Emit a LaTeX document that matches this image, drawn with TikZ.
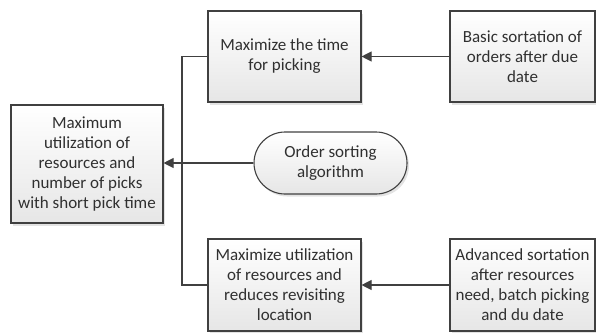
\documentclass[tikz,border=0pt]{standalone}
\usepackage{fontspec}
\setmainfont{Carlito}
\usetikzlibrary{arrows.meta,shadows}

\definecolor{boxline}{HTML}{404040}
\definecolor{boxfill}{HTML}{E6E6E6}
\definecolor{textcol}{HTML}{303030}

\begin{document}
\begin{tikzpicture}[x=1pt,y=-1pt,
  base/.style={draw=boxline, line width=1.1pt, top color=white, bottom color=boxfill,
    drop shadow={opacity=0.22, shadow xshift=2pt, shadow yshift=-2.5pt},
    align=center, text=textcol, inner sep=0pt,
    font=\fontsize{17}{20}\selectfont},
  box/.style={base, rectangle},
  pill/.style={base, rectangle, rounded corners=31pt},
  link/.style={draw=boxline, line width=1.1pt},
  arr/.style={link, -{Triangle[length=10pt,width=10pt]}}]

  % canvas
  \useasboundingbox (0,0) rectangle (596,332);

  % goal
  \node[box, minimum width=152pt, minimum height=118pt] (goal) at (87,164)
    {Maximum\\utilization of\\resources and\\number of picks\\with short pick time};

  % intermediate objectives
  \node[box, minimum width=153pt, minimum height=91pt] (time) at (284.5,56.5)
    {Maximize the time\\for picking};
  \node[box, minimum width=153pt, minimum height=92pt] (util) at (284.5,285)
    {Maximize utilization\\of resources and\\reduces revisiting\\location};

  % sorting algorithm
  \node[pill, minimum width=153pt, minimum height=62pt] (algo) at (330.5,163)
    {Order sorting\\algorithm};

  % sortation strategies
  \node[box, minimum width=145pt, minimum height=91pt] (basic) at (522.5,56.5)
    {Basic sortation of\\orders after due\\date};
  \node[box, minimum width=145pt, minimum height=92pt] (adv) at (522.5,285)
    {Advanced sortation\\after resources\\need, batch picking\\and du date};

  % connectors
  \coordinate (bus) at (182,164);
  \draw[arr] (basic.west) -- (time.east);
  \draw[arr] (adv.west) -- (util.east);
  \draw[arr] (algo.west) -- (algo.west -| goal.east);
  \draw[link] (time.west) -- (time.west -| bus) -- (util.west -| bus) -- (util.west);
\end{tikzpicture}
\end{document}
